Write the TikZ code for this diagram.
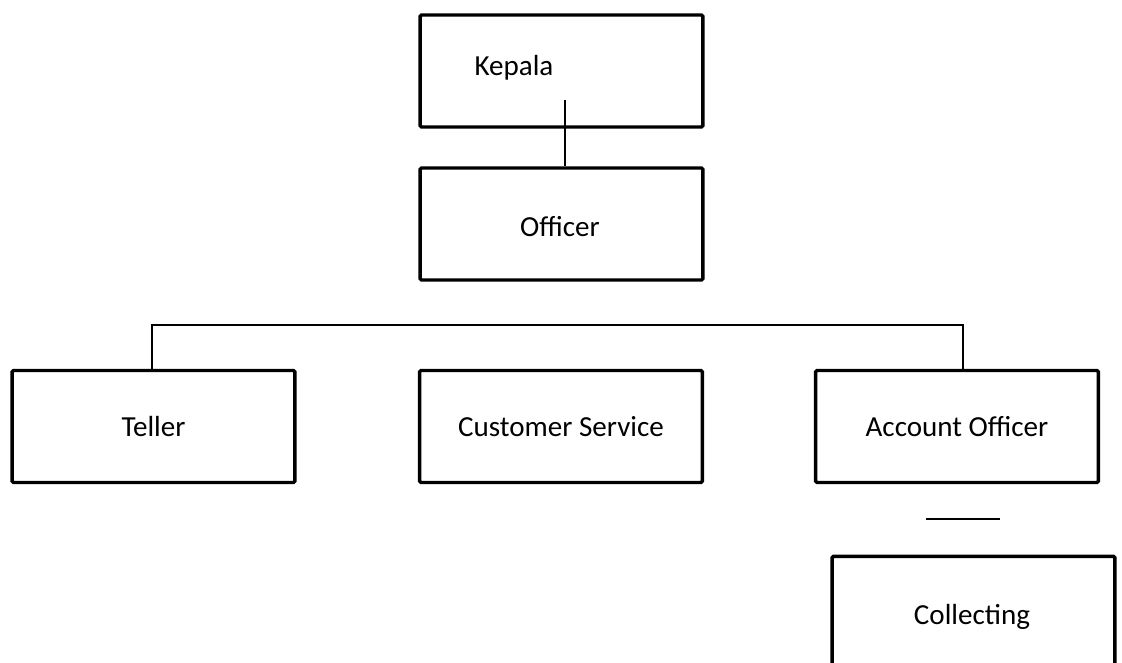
\documentclass[tikz,border=0pt]{standalone}
\usepackage{fontspec}
\setmainfont{Carlito}
\usetikzlibrary{positioning, calc}
\tikzset{
	orgbox/.style={rectangle, draw=black, line width=2.6pt, rounded corners=1pt, minimum width=212pt, minimum height=84pt, inner sep=0pt, font=\fontsize{21.8}{26}\selectfont},
	orgtext/.style={inner sep=0pt, font=\fontsize{21.8}{26}\selectfont},
	link/.style={draw=black, line width=1.3pt},
}
\begin{document}
\begin{tikzpicture}[x=0.75pt, y=-0.75pt]
		\clip (0,0) rectangle (1122,662);
		\fill[white] (0,0) rectangle (1122,662);
		\node[orgbox] (kepala) at (561.5,71) {};
		\node[orgtext] (kepalatxt) at (514,68) {Kepala};
		\node[orgbox] (officer) at (561.5,224) {};
		\node[orgtext] (officertxt) at (560,227) {Officer};
		\node[orgbox] (teller) at (153.5,426.5) {Teller};
		\node[orgbox] (cs) at (561,426.5) {Customer Service};
		\node[orgbox] (acct) at (957,426.5) {Account Officer};
		\node[orgbox, minimum height=130pt] (collect) at (973.5,643) {};
		\node[orgtext] (collecttxt) at (972,617) {Collecting};
		\coordinate (kepalastart) at (565,100);
		\coordinate (busleft) at (152,325);
		\coordinate (busright) at (963,325);
		\coordinate (dashleft) at (926,519);
		\coordinate (dashright) at (1000,519);
		\draw[link] (kepalastart) -- (kepalastart |- officer.north);
		\draw[link] (busleft |- teller.north) -- (busleft) -- (busright) -- (busright |- acct.north);
		\draw[link] (dashleft) -- (dashright);
	\end{tikzpicture}
\end{document}
